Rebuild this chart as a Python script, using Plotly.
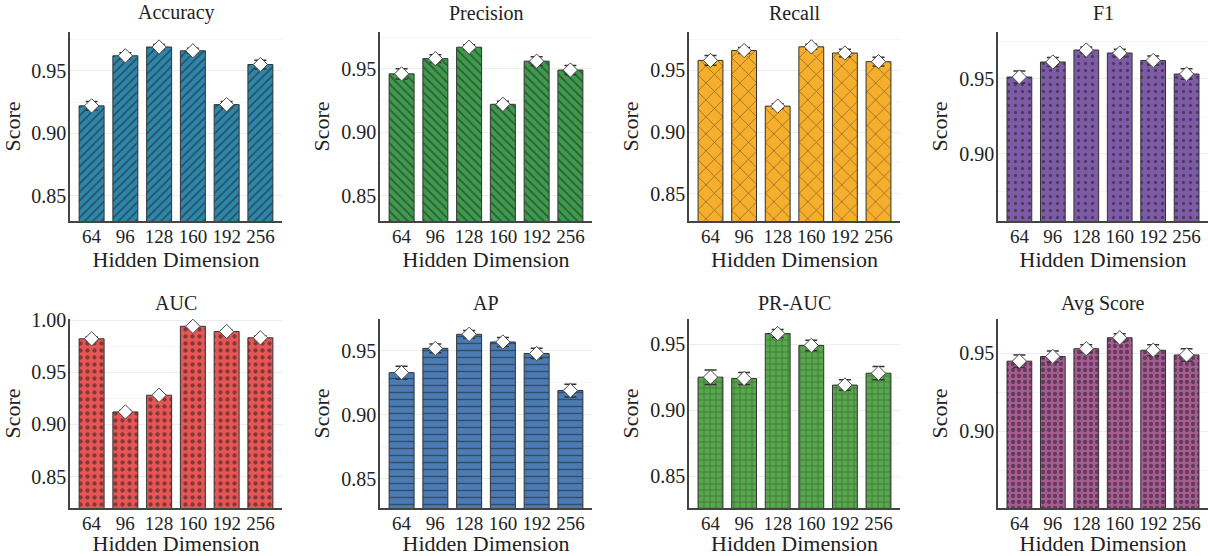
import plotly.graph_objects as go

# ---------------- data ----------------
hidden_dims = ["64", "96", "128", "160", "192", "256"]
metric_names = ["Accuracy", "Precision", "Recall", "F1", "AUC", "AP", "PR-AUC", "Avg Score"]

accuracy = [0.922, 0.962, 0.969, 0.966, 0.923, 0.955]
accuracy_std = [0.0035, 0.0025, 0.002, 0.002, 0.0025, 0.0035]
precision = [0.946, 0.958, 0.967, 0.922, 0.956, 0.949]
precision_std = [0.004, 0.003, 0.002, 0.0025, 0.0035, 0.0035]
recall = [0.958, 0.966, 0.921, 0.969, 0.964, 0.957]
recall_std = [0.004, 0.0025, 0.002, 0.002, 0.003, 0.0035]
f1 = [0.951, 0.961, 0.969, 0.967, 0.962, 0.953]
f1_std = [0.004, 0.003, 0.002, 0.0025, 0.003, 0.0035]
auc = [0.982, 0.912, 0.928, 0.994, 0.989, 0.983]
auc_std = [0.002, 0.0015, 0.0015, 0.0015, 0.0015, 0.002]
ap = [0.933, 0.952, 0.963, 0.957, 0.948, 0.919]
ap_std = [0.005, 0.0035, 0.003, 0.0035, 0.004, 0.005]
pr_auc = [0.925, 0.924, 0.958, 0.949, 0.919, 0.928]
pr_auc_std = [0.0055, 0.0045, 0.003, 0.004, 0.004, 0.005]
avg_score = [0.945, 0.948, 0.953, 0.960, 0.952, 0.949]
avg_score_std = [0.004, 0.0035, 0.0025, 0.0025, 0.0035, 0.004]

values = [accuracy, precision, recall, f1, auc, ap, pr_auc, avg_score]
stds = [accuracy_std, precision_std, recall_std, f1_std, auc_std, ap_std, pr_auc_std, avg_score_std]

# ---------------- styles ----------------
colors = ["#2E86AB", "#3E9A4C", "#F6AE2D", "#7D5BA6", "#E85555", "#4A7BB3", "#57A84C", "#A65B93"]
patterns = [
    dict(shape="/", size=6, solidity=0.3),
    dict(shape="\\", size=6, solidity=0.3),
    dict(shape="x", size=12, solidity=0.12),
    dict(shape=".", size=7, solidity=0.18),
    dict(shape=".", size=7, solidity=0.3),
    dict(shape="-", size=7, solidity=0.2),
    dict(shape="+", size=6, solidity=0.2),
    dict(shape=".", size=6, solidity=0.4),
]
y_ranges = [
    [0.830, 0.981], [0.830, 0.979], [0.828, 0.981], [0.855, 0.981],
    [0.820, 1.001], [0.827, 0.975], [0.826, 0.969], [0.851, 0.972],
]

W, H = 1208, 556
col_px = [(70, 282), (380, 592), (689, 900), (998, 1210)]
row_px = [(32, 221), (319, 508)]
title_px = [13, 303]

FONT = "Liberation Serif"

fig = go.Figure()
layout_axes = {}
annotations = []

for i, name in enumerate(metric_names):
    r, c = divmod(i, 4)
    n = i + 1
    xa = "x" if n == 1 else f"x{n}"
    ya = "y" if n == 1 else f"y{n}"
    fig.add_trace(go.Bar(
        x=hidden_dims, y=values[i], xaxis=xa, yaxis=ya,
        width=0.74,
        marker=dict(color=colors[i], line=dict(color="#333333", width=1),
                    pattern=dict(fgcolor="#1e1e1e", bgcolor=colors[i], **patterns[i])),
        error_y=dict(type="data", array=stds[i], color="#333333", thickness=1.5, width=6),
        showlegend=False, hoverinfo="skip",
    ))
    fig.add_trace(go.Scatter(
        x=hidden_dims, y=values[i], xaxis=xa, yaxis=ya, mode="markers",
        marker=dict(symbol="diamond", size=11, color="white", line=dict(color="#4a4a4a", width=1)),
        showlegend=False, hoverinfo="skip",
    ))
    x0, x1 = col_px[c]
    y0, y1 = row_px[r]
    x1 = min(x1, W)
    xkey = "xaxis" if n == 1 else f"xaxis{n}"
    ykey = "yaxis" if n == 1 else f"yaxis{n}"
    layout_axes[xkey] = dict(
        domain=[x0 / W, x1 / W], anchor=ya, type="category", automargin=False,
        range=[-0.64, 5.64], showline=True, linecolor="#444444", linewidth=1.5,
        showgrid=False, ticks="", ticklen=0, ticklabelstandoff=-3,
        tickfont=dict(size=19, color="#222222"),
        title=dict(text="Hidden Dimension", font=dict(size=22, color="#222222"), standoff=2),
        zeroline=False,
    )
    layout_axes[ykey] = dict(
        domain=[1 - y1 / H, 1 - y0 / H], anchor=xa, range=y_ranges[i], automargin=False,
        dtick=0.05, tick0=0.0, tickformat=".2f", showline=True, linecolor="#444444",
        linewidth=1.5, showgrid=True, gridcolor="#ececec", gridwidth=1, ticks="", ticklen=0,
        ticklabelstandoff=-2,
        tickfont=dict(size=20, color="#222222"), zeroline=False,
        minor=dict(dtick=0.025, tick0=0.0, showgrid=True, gridcolor="#f5f5f5", gridwidth=1),
        title=dict(text="Score", font=dict(size=22, color="#222222"), standoff=6),
    )
    annotations.append(dict(
        text=name, x=((x0 + x1) / 2) / W, y=1 - title_px[r] / H,
        xref="paper", yref="paper", xanchor="center", yanchor="middle",
        showarrow=False, font=dict(size=20, color="#222222"),
    ))

fig.update_layout(
    width=W, height=H, margin=dict(l=0, r=0, t=0, b=0, autoexpand=False),
    paper_bgcolor="white", plot_bgcolor="white",
    font=dict(family=FONT, color="#222222"),
    annotations=annotations, bargap=0.2,
    **layout_axes,
)

fig.write_html(
    "out.html",
    config={"displayModeBar": False},
    post_script="document.body.style.margin='0px';document.body.style.overflow='hidden';",
)
